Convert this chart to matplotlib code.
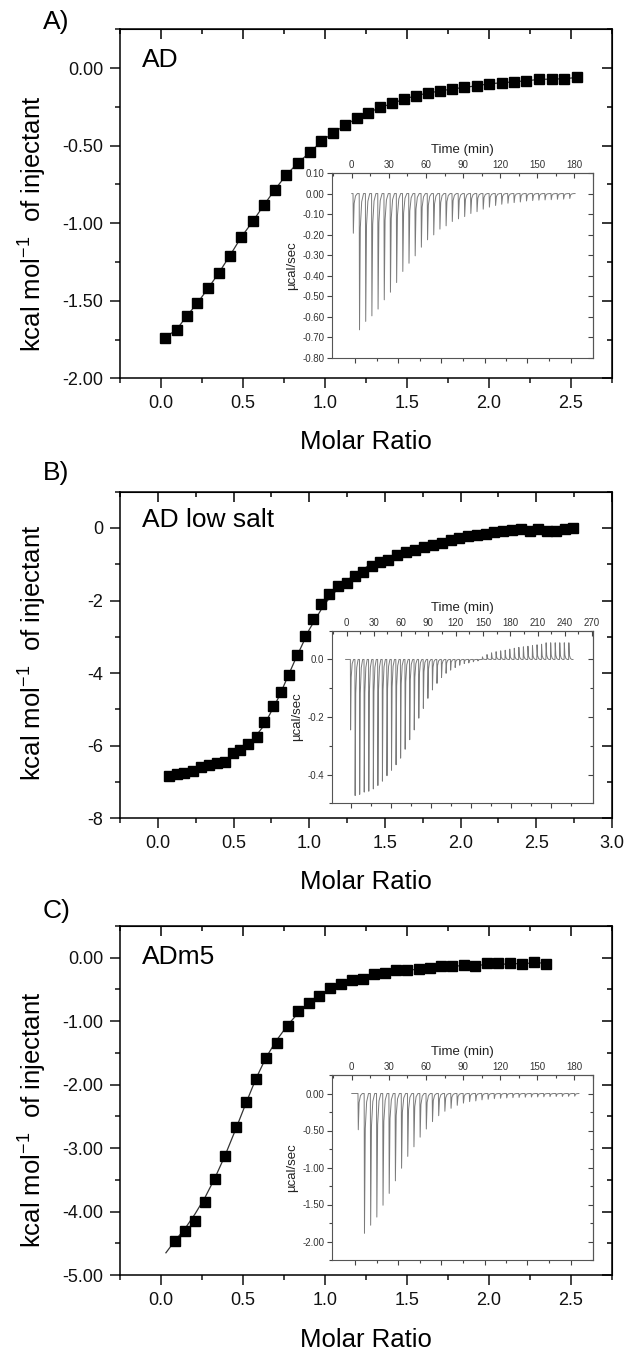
import matplotlib
matplotlib.use('Agg')
import matplotlib.pyplot as plt
from matplotlib.ticker import MultipleLocator, FormatStrFormatter, FixedLocator, NullFormatter

plt.rcParams['font.family'] = ['Liberation Sans', 'DejaVu Sans']
plt.rcParams['axes.unicode_minus'] = False
plt.rcParams['mathtext.fontset'] = 'custom'
plt.rcParams['mathtext.rm'] = 'Liberation Sans'
plt.rcParams['mathtext.default'] = 'regular'

# ---- panel A: AD ----
a_ratio = [0.024, 0.095, 0.156, 0.222, 0.288, 0.354, 0.420, 0.488, 0.559, 0.627, 0.695, 0.763,
           0.837, 0.910, 0.978, 1.049, 1.122, 1.193, 1.263, 1.337, 1.410, 1.483, 1.554, 1.627,
           1.700, 1.773, 1.846, 1.927, 2.000, 2.078, 2.154, 2.227, 2.305, 2.383, 2.459, 2.537]
a_heat = [-1.738, -1.686, -1.600, -1.514, -1.419, -1.318, -1.209, -1.092, -0.989, -0.884, -0.783, -0.690,
          -0.609, -0.542, -0.473, -0.417, -0.370, -0.323, -0.288, -0.254, -0.228, -0.200, -0.178, -0.161,
          -0.148, -0.135, -0.125, -0.114, -0.101, -0.095, -0.088, -0.082, -0.073, -0.071, -0.069, -0.060]
a_fit_x = a_ratio
a_fit_y = a_heat
a_time = [1, 6, 11, 16, 21, 26, 31, 36, 41, 46, 51, 56, 61, 66, 71, 76, 81, 86, 91, 96, 101, 106,
          111, 116, 121, 126, 131, 136, 141, 146, 151, 156, 161, 166, 171, 176]
a_peak = [-0.193, -0.663, -0.622, -0.595, -0.562, -0.517, -0.480, -0.433, -0.379, -0.339, -0.303, -0.261,
          -0.225, -0.201, -0.173, -0.157, -0.136, -0.123, -0.112, -0.097, -0.088, -0.076, -0.066, -0.058,
          -0.052, -0.047, -0.044, -0.041, -0.036, -0.034, -0.032, -0.031, -0.030, -0.028, -0.027, -0.024]

# ---- panel B: AD low salt ----
b_ratio = [0.076, 0.125, 0.175, 0.230, 0.285, 0.340, 0.393, 0.444, 0.495, 0.543, 0.598, 0.653, 0.703,
           0.759, 0.814, 0.867, 0.917, 0.972, 1.027, 1.079, 1.133, 1.190, 1.248, 1.302, 1.357, 1.412,
           1.467, 1.522, 1.582, 1.639, 1.700, 1.758, 1.815, 1.875, 1.935, 1.990, 2.050, 2.106, 2.165,
           2.222, 2.282, 2.337, 2.397, 2.458, 2.513, 2.573, 2.630, 2.690, 2.740]
b_heat = [-6.83, -6.79, -6.76, -6.69, -6.59, -6.53, -6.48, -6.44, -6.21, -6.12, -5.95, -5.75, -5.35,
          -4.90, -4.51, -4.05, -3.50, -2.99, -2.50, -2.09, -1.83, -1.60, -1.52, -1.33, -1.20, -1.06,
          -0.95, -0.87, -0.74, -0.67, -0.60, -0.52, -0.47, -0.40, -0.32, -0.28, -0.23, -0.20, -0.17,
          -0.12, -0.09, -0.05, -0.03, -0.07, -0.03, -0.09, -0.07, -0.03, -0.01]
b_fit_x = [0.07, 0.2, 0.35, 0.5, 0.6, 0.7, 0.8, 0.9, 1.0, 1.1, 1.2, 1.3, 1.4, 1.5, 1.6, 1.8, 2.0,
           2.2, 2.4, 2.6, 2.75]
b_fit_y = [-6.85, -6.72, -6.55, -6.28, -5.98, -5.45, -4.65, -3.70, -2.80, -2.10, -1.62, -1.28,
           -1.02, -0.83, -0.68, -0.46, -0.31, -0.20, -0.12, -0.06, -0.03]
b_time = [4.2, 9.2, 14.2, 19.2, 24.2, 29.2, 34.2, 39.2, 44.2, 49.2, 54.2, 59.2, 64.2, 69.2, 74.2,
          79.2, 84.2, 89.2, 94.2, 99.2, 104.2, 109.2, 114.2, 119.2, 124.2, 129.2, 134.2, 139.2, 144.2,
          149.2, 154.2, 159.2, 164.2, 169.2, 174.2, 179.2, 184.2, 189.2, 194.2, 199.2, 204.2, 209.2,
          214.2, 219.2, 224.2, 229.2, 234.2, 239.2, 244.2]
b_peak = [-0.245, -0.473, -0.469, -0.461, -0.458, -0.450, -0.438, -0.423, -0.404, -0.385, -0.366,
          -0.343, -0.312, -0.279, -0.245, -0.204, -0.170, -0.135, -0.106, -0.083, -0.063, -0.048,
          -0.037, -0.028, -0.020, -0.014, -0.012, -0.008, -0.005, 0.009, 0.017, 0.023, 0.027, 0.030,
          0.032, 0.036, 0.039, 0.042, 0.044, 0.046, 0.048, 0.051, 0.053, 0.058, 0.058, 0.058, 0.058,
          0.058, 0.058]

# ---- panel C: ADm5 ----
c_ratio = [0.085, 0.146, 0.207, 0.268, 0.329, 0.390, 0.456, 0.520, 0.580, 0.641, 0.705, 0.773,
           0.837, 0.902, 0.966, 1.032, 1.098, 1.163, 1.232, 1.300, 1.366, 1.434, 1.500, 1.573,
           1.641, 1.707, 1.776, 1.846, 1.915, 1.988, 2.056, 2.129, 2.200, 2.276, 2.346]
c_heat = [-4.458, -4.305, -4.147, -3.853, -3.489, -3.121, -2.674, -2.279, -1.905, -1.579, -1.342, -1.079,
          -0.842, -0.721, -0.605, -0.474, -0.421, -0.353, -0.332, -0.263, -0.247, -0.200, -0.195, -0.184,
          -0.158, -0.132, -0.132, -0.116, -0.132, -0.079, -0.089, -0.089, -0.105, -0.068, -0.095]
c_fit_x = [0.03, 0.085, 0.146, 0.207, 0.268, 0.329, 0.39, 0.456, 0.52, 0.58, 0.641, 0.705, 0.773,
           0.837, 0.902, 0.966, 1.032, 1.1, 1.2, 1.3, 1.4, 1.6, 1.8, 2.0, 2.2, 2.35]
c_fit_y = [-4.65, -4.46, -4.27, -4.04, -3.78, -3.47, -3.12, -2.70, -2.28, -1.90, -1.57, -1.30, -1.06,
           -0.87, -0.72, -0.60, -0.50, -0.42, -0.34, -0.28, -0.23, -0.17, -0.13, -0.11, -0.09, -0.08]
c_time = [5, 10, 15, 20, 25, 30, 35, 40, 45, 50, 55, 60, 65, 70, 75, 80, 85, 90, 95, 100, 105, 110,
          115, 120, 125, 130, 135, 140, 145, 150, 155, 160, 165, 170, 175, 180]
c_peak = [-0.49, -1.89, -1.78, -1.67, -1.51, -1.35, -1.18, -1.01, -0.85, -0.72, -0.59, -0.48, -0.38,
          -0.30, -0.24, -0.20, -0.16, -0.13, -0.11, -0.10, -0.086, -0.078, -0.070, -0.065, -0.060,
          -0.056, -0.053, -0.050, -0.048, -0.046, -0.044, -0.042, -0.040, -0.040, -0.038, -0.036]

H = 1352.0
fig = plt.figure(figsize=(6.25, 13.52), dpi=100)


def frac(top, bottom):
    return 1 - bottom / H, (bottom - top) / H


def main_panel(top, bottom, x, y, fx, fy, xlim, ylim, ymaj, ymin, yfmt, name, letter, letter_y,
               ylab_y, xlab_y):
    b, h = frac(top, bottom)
    ax = fig.add_axes([120 / 625, b, 492 / 625, h])
    ax.plot(fx, fy, color='#333333', lw=0.9, zorder=2)
    ax.plot(x, y, 's', color='black', ms=7.6, zorder=3, clip_on=False)
    ax.set_xlim(xlim)
    ax.set_ylim(ylim)
    ax.xaxis.set_major_locator(MultipleLocator(0.5))
    ax.xaxis.set_minor_locator(MultipleLocator(0.25))
    ax.xaxis.set_major_formatter(FormatStrFormatter('%.1f'))
    ax.yaxis.set_major_locator(MultipleLocator(ymaj))
    ax.yaxis.set_minor_locator(MultipleLocator(ymin))
    ax.yaxis.set_major_formatter(FormatStrFormatter(yfmt))
    ax.tick_params(which='both', direction='out', top=False, right=False, labelsize=13,
                   width=1.1, colors='#111111')
    ax.tick_params(which='major', length=7, pad=5)
    ax.tick_params(which='minor', length=3.6)
    for s in ax.spines.values():
        s.set_linewidth(1.1)
    tx = ax.secondary_xaxis('top')
    tx.xaxis.set_major_locator(MultipleLocator(0.5))
    tx.xaxis.set_minor_locator(MultipleLocator(0.25))
    tx.xaxis.set_major_formatter(NullFormatter())
    tx.tick_params(which='both', direction='in', width=1.1)
    tx.tick_params(which='major', length=7)
    tx.tick_params(which='minor', length=3.6)
    ry = ax.secondary_yaxis('right')
    ry.yaxis.set_major_locator(MultipleLocator(ymaj))
    ry.yaxis.set_minor_locator(MultipleLocator(ymin))
    ry.yaxis.set_major_formatter(NullFormatter())
    ry.tick_params(which='both', direction='in', width=1.1)
    ry.tick_params(which='major', length=7)
    ry.tick_params(which='minor', length=3.6)
    ax.set_xlabel('Molar Ratio', fontsize=18.5)
    ax.xaxis.set_label_coords(0.5, xlab_y)
    ax.set_ylabel('kcal mol$^{-1}$  of injectant', fontsize=18.5)
    ax.yaxis.set_label_coords(-0.145, ylab_y)
    ax.text(0.045, 0.912, name, transform=ax.transAxes, fontsize=19, va='center', ha='left')
    fig.text(43 / 625, 1 - letter_y / H, letter, fontsize=19, va='center', ha='left')
    return ax


def inset(top, bottom, times, peaks, t0, t1, xlim, ylim, ymaj, ymin, yfmt, bot_major, bot_minor):
    b, h = frac(top, bottom)
    ax = fig.add_axes([332 / 625, b, 261 / 625, h])
    xs = [t0]
    ys = [0.0]
    for t, d in zip(times, peaks):
        xs += [t, t + 0.25, t + 0.9, t + 2.0, t + 3.5]
        ys += [0.0, d, d * 0.25, d * 0.06, 0.0]
    xs.append(t1)
    ys.append(0.0)
    ax.plot(xs, ys, color='#7a7a7a', lw=0.7)
    ax.set_xlim(xlim)
    ax.set_ylim(ylim)
    ax.xaxis.set_major_locator(FixedLocator(bot_major))
    ax.xaxis.set_minor_locator(FixedLocator(bot_minor))
    ax.xaxis.set_major_formatter(NullFormatter())
    ax.yaxis.set_major_locator(MultipleLocator(ymaj))
    ax.yaxis.set_minor_locator(MultipleLocator(ymin))
    ax.yaxis.set_major_formatter(FormatStrFormatter(yfmt))
    ax.tick_params(which='both', direction='out', top=False, right=False, labelsize=7,
                   width=0.8, colors='#444444', labelcolor='#333333')
    ax.tick_params(which='major', length=3.5, pad=2)
    ax.tick_params(which='minor', length=2)
    for s in ax.spines.values():
        s.set_linewidth(0.8)
        s.set_color('#555555')
    tx = ax.secondary_xaxis('top')
    tx.xaxis.set_major_locator(MultipleLocator(30))
    tx.xaxis.set_minor_locator(MultipleLocator(15))
    tx.tick_params(which='both', direction='in', width=0.8, labelsize=7, colors='#444444',
                   labelcolor='#333333', pad=2)
    tx.tick_params(which='major', length=3.5)
    tx.tick_params(which='minor', length=2)
    tx.spines['top'].set_color('#555555')
    tx.spines['top'].set_linewidth(0.8)
    tx.set_xlabel('Time (min)', fontsize=9.5, labelpad=5, color='#222222')
    ry = ax.secondary_yaxis('right')
    ry.yaxis.set_major_locator(MultipleLocator(ymaj))
    ry.yaxis.set_minor_locator(MultipleLocator(ymin))
    ry.yaxis.set_major_formatter(NullFormatter())
    ry.tick_params(which='both', direction='in', width=0.8, colors='#444444')
    ry.tick_params(which='major', length=3.5)
    ry.tick_params(which='minor', length=2)
    ry.spines['right'].set_color('#555555')
    ry.spines['right'].set_linewidth(0.8)
    ax.set_ylabel('\u00b5cal/sec', fontsize=9.5, labelpad=3, color='#222222')
    return ax


ac_bot_major = [2.4, 37.4, 72.4, 107.4, 141.9, 176.9]
ac_bot_minor = [20.2, 55.2, 90.2, 124.9, 159.4]
b_bot_major = [5.3, 49.2, 93.1, 137.0, 181.0, 225.0]
b_bot_minor = [27.3, 71.2, 115.1, 159.0, 203.0, 247.0]

main_panel(29.3, 378.3, a_ratio, a_heat, a_fit_x, a_fit_y, (-0.25, 2.75), (-2.0, 0.25),
           0.5, 0.25, '%.2f', 'AD', 'A)', 22, 0.444, -0.148)
inset(173, 358, a_time, a_peak, 0, 180.5, (-16, 195), (-0.80, 0.10), 0.1, 0.1, '%.2f',
      ac_bot_major, ac_bot_minor)

main_panel(491.7, 818.3, b_ratio, b_heat, b_fit_x, b_fit_y, (-0.25, 3.0), (-8, 1),
           2, 1, '%d', 'AD low salt', 'B)', 473, 0.506, -0.158)
inset(630.7, 803.3, b_time, b_peak, -1, 249, (-16, 271), (-0.5, 0.1), 0.2, 0.1, '%.1f',
      b_bot_major, b_bot_minor)

main_panel(926, 1275, c_ratio, c_heat, c_fit_x, c_fit_y, (-0.25, 2.75), (-5.0, 0.5),
           1.0, 0.5, '%.2f', 'ADm5', 'C)', 911, 0.444, -0.152)
inset(1075, 1260, c_time, c_peak, 0, 183.6, (-16, 195), (-2.25, 0.25), 0.5, 0.25, '%.2f',
      ac_bot_major, ac_bot_minor)

fig.savefig('out.png', dpi=100, facecolor='white')
